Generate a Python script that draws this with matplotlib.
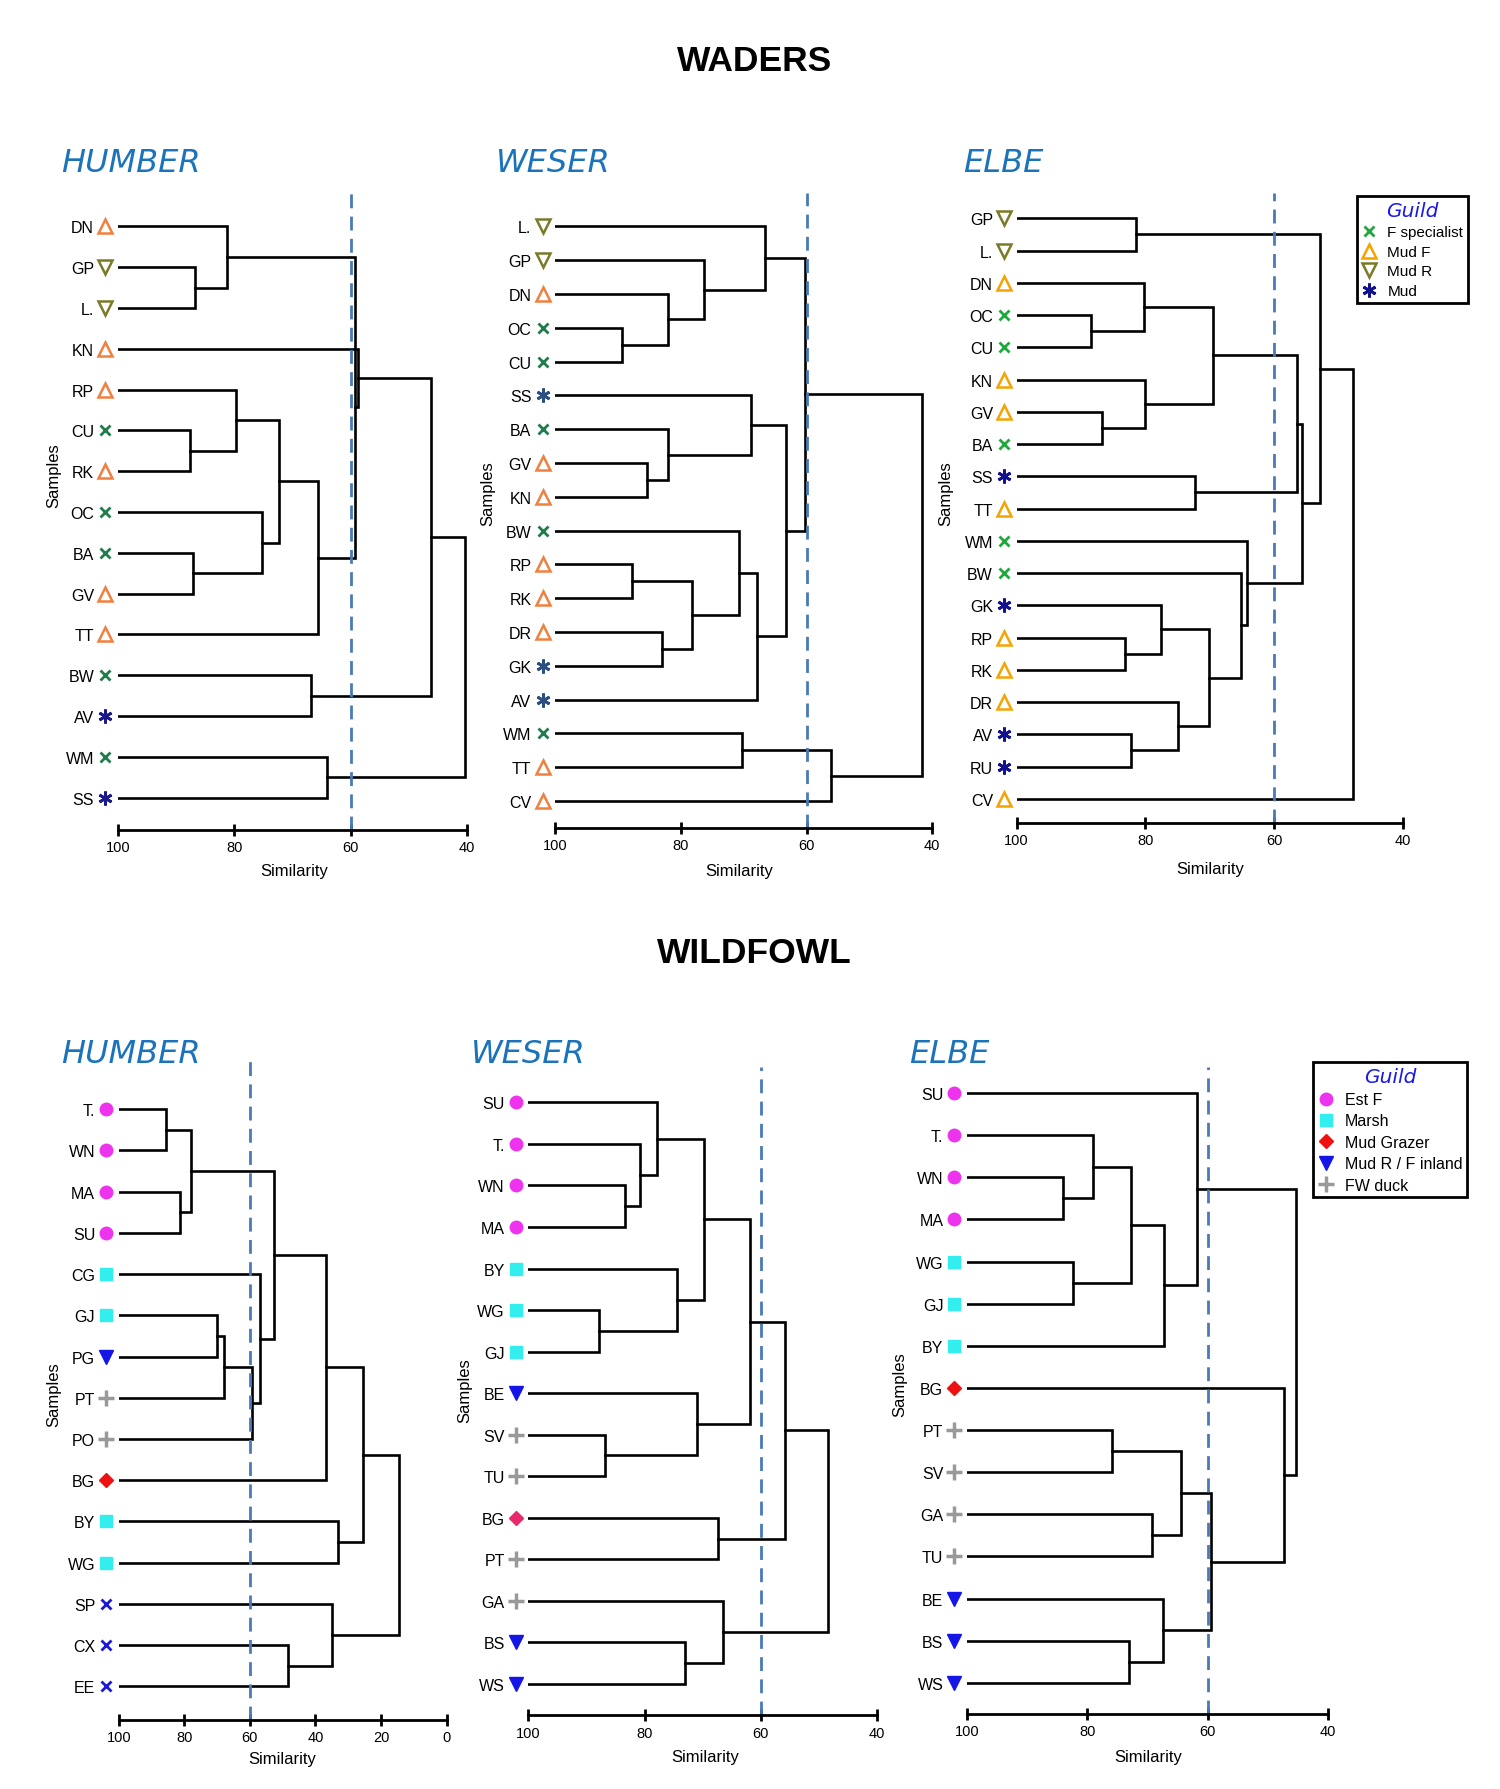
import matplotlib.pyplot as plt
from matplotlib.transforms import ScaledTranslation
from matplotlib.lines import Line2D

plt.rcParams['font.family'] = ['Liberation Sans', 'DejaVu Sans']

# ---------------- data ----------------
# merges work like a scipy linkage: (child a, child b, similarity)
# children < n are leaves, n + k is the k-th merge

# Waders - Humber
wh_leaves = ['DN', 'GP', 'L.', 'KN', 'RP', 'CU', 'RK', 'OC', 'BA', 'GV', 'TT', 'BW', 'AV', 'WM', 'SS']
wh_guild = ['MF', 'MR', 'MR', 'MF', 'MF', 'F', 'MF', 'F', 'F', 'MF', 'MF', 'F', 'M', 'F', 'M']
wh_merges = [(1, 2, 86.8), (0, 15, 81.2), (5, 6, 87.6), (4, 17, 79.7), (8, 9, 87.1),
             (7, 19, 75.2), (18, 20, 72.4), (21, 10, 65.7), (16, 22, 59.3), (23, 3, 58.8),
             (11, 12, 66.8), (24, 25, 46.2), (13, 14, 64.0), (26, 27, 40.4)]

# Waders - Weser
ww_leaves = ['L.', 'GP', 'DN', 'OC', 'CU', 'SS', 'BA', 'GV', 'KN', 'BW', 'RP', 'RK', 'DR', 'GK',
             'AV', 'WM', 'TT', 'CV']
ww_guild = ['MR', 'MR', 'MF', 'F', 'F', 'M', 'F', 'MF', 'MF', 'F', 'MF', 'MF', 'MF', 'M',
            'M', 'F', 'MF', 'MF']
ww_merges = [(3, 4, 89.4), (2, 18, 82.0), (1, 19, 76.3), (0, 20, 66.6), (7, 8, 85.3),
             (6, 22, 82.0), (5, 23, 68.9), (10, 11, 87.8), (12, 13, 83.0), (25, 26, 78.2),
             (9, 27, 70.7), (28, 14, 67.8), (24, 29, 63.2), (21, 30, 60.3), (15, 16, 70.3),
             (32, 17, 56.1), (31, 33, 41.6)]

# Waders - Elbe
we_leaves = ['GP', 'L.', 'DN', 'OC', 'CU', 'KN', 'GV', 'BA', 'SS', 'TT', 'WM', 'BW', 'GK', 'RP',
             'RK', 'DR', 'AV', 'RU', 'CV']
we_guild = ['MR', 'MR', 'MF', 'F', 'F', 'MF', 'MF', 'F', 'M', 'MF', 'F', 'F', 'M', 'MF',
            'MF', 'MF', 'M', 'M', 'MF']
we_merges = [(0, 1, 81.5), (3, 4, 88.5), (2, 20, 80.2), (6, 7, 86.7), (5, 22, 80.1),
             (21, 23, 69.5), (8, 9, 72.3), (24, 25, 56.4), (13, 14, 83.1), (12, 27, 77.6),
             (16, 17, 82.2), (15, 29, 74.9), (28, 30, 70.1), (11, 31, 65.2), (10, 32, 64.2),
             (26, 33, 55.7), (19, 34, 52.9), (35, 18, 47.8)]

# Wildfowl - Humber
fh_leaves = ['T.', 'WN', 'MA', 'SU', 'CG', 'GJ', 'PG', 'PT', 'PO', 'BG', 'BY', 'WG', 'SP', 'CX', 'EE']
fh_guild = ['E', 'E', 'E', 'E', 'Ma', 'Ma', 'R', 'D', 'D', 'G', 'Ma', 'Ma', 'X', 'X', 'X']
fh_merges = [(0, 1, 85.6), (2, 3, 81.2), (15, 16, 78.1), (5, 6, 69.9), (18, 7, 67.9),
             (19, 8, 59.5), (4, 20, 57.0), (17, 21, 52.7), (22, 9, 36.9), (10, 11, 33.1),
             (23, 24, 25.4), (13, 14, 48.3), (12, 26, 34.9), (25, 27, 14.6)]

# Wildfowl - Weser
fw_leaves = ['SU', 'T.', 'WN', 'MA', 'BY', 'WG', 'GJ', 'BE', 'SV', 'TU', 'BG', 'PT', 'GA', 'BS', 'WS']
fw_guild = ['E', 'E', 'E', 'E', 'Ma', 'Ma', 'Ma', 'R', 'D', 'D', 'G', 'D', 'D', 'R', 'R']
fw_merges = [(2, 3, 83.4), (1, 15, 80.8), (0, 16, 77.9), (5, 6, 87.9), (4, 18, 74.5),
             (17, 19, 69.8), (8, 9, 86.9), (7, 21, 70.9), (20, 22, 61.9), (10, 11, 67.3),
             (23, 24, 55.8), (13, 14, 73.1), (12, 26, 66.5), (25, 27, 48.4)]

# Wildfowl - Elbe
fe_leaves = ['SU', 'T.', 'WN', 'MA', 'WG', 'GJ', 'BY', 'BG', 'PT', 'SV', 'GA', 'TU', 'BE', 'BS', 'WS']
fe_guild = ['E', 'E', 'E', 'E', 'Ma', 'Ma', 'Ma', 'G', 'D', 'D', 'D', 'D', 'R', 'R', 'R']
fe_merges = [(2, 3, 84.1), (1, 15, 79.0), (4, 5, 82.4), (16, 17, 72.7), (18, 6, 67.3),
             (0, 19, 61.8), (8, 9, 75.9), (10, 11, 69.3), (21, 22, 64.5), (13, 14, 73.1),
             (12, 24, 67.5), (23, 25, 59.4), (7, 26, 47.3), (20, 27, 45.3)]

cut_off = 60

# ---------------- marker styles ----------------
def wader_styles(orange, green, star):
    return {
        'F': dict(marker='x', color=green, ms=7, mew=2),
        'MF': dict(marker='^', color=orange, mfc='none', ms=9.5, mew=1.8),
        'MR': dict(marker='v', color='#7a7a28', mfc='none', ms=9.5, mew=1.8),
        'M': dict(marker=(6, 2, 0), color=star, ms=10, mew=2),
    }

wh_style = wader_styles('#f08040', '#1e7d4a', '#1a1a8c')
ww_style = wader_styles('#f08040', '#1e7d4a', '#2a4f80')
we_style = wader_styles('#f5a300', '#1fa83c', '#12128f')

fowl_style = {
    'E': dict(marker='o', color='#ee33ee', ms=9),
    'Ma': dict(marker='s', color='#33eeee', ms=8.5),
    'G': dict(marker='D', color='#ee1111', ms=7.5),
    'R': dict(marker='v', color='#1515e6', ms=10),
    'D': dict(marker='+', color='#999999', ms=11, mew=2.5),
    'X': dict(marker='x', color='#1a1ad6', ms=7, mew=2),
}
fw_style = dict(fowl_style)
fw_style['G'] = dict(marker='D', color='#e8296b', ms=7.5)

# ---------------- layout (measured on a 1300 px wide copy) ----------------
W_PX, H_PX = 1300, 1551


def fx(px):
    return px / W_PX


def fy(py):
    return 1 - py / H_PX


fig = plt.figure(figsize=(15, 17.9), dpi=100)


def draw_panel(box, leaves, guilds, merges, xmin, styles):
    x0, x1, ytop, ybot, yaxis, dtop = box
    n = len(leaves)
    sp = (ybot - ytop) / (n - 1)
    ax = fig.add_axes([fx(x0), fy(yaxis), fx(x1) - fx(x0), (yaxis - dtop) / H_PX])
    ax.set_xlim(100, xmin)
    ax.set_ylim(n - 1 + (yaxis - ybot) / sp, -(ytop - dtop) / sp)

    xs = [100.0] * n
    ys = list(range(n))
    for a, b, s in merges:
        ax.plot([xs[a], s, s, xs[b]], [ys[a], ys[a], ys[b], ys[b]],
                color='black', lw=1.9, solid_joinstyle='miter')
        xs.append(s)
        ys.append((ys[a] + ys[b]) / 2)

    ax.axvline(cut_off, color='#4a7ab5', lw=2, ls=(0, (5, 3)))

    off = ax.transData + ScaledTranslation(-9 / 72, 0, fig.dpi_scale_trans)
    for i, g in enumerate(guilds):
        ax.plot([100], [i], ls='none', transform=off, clip_on=False, **styles[g])

    ax.set_yticks(range(n))
    ax.set_yticklabels(leaves, fontsize=11.5)
    ax.tick_params(axis='y', length=0, pad=17)
    ax.set_xticks(range(100, xmin - 1, -20))
    ax.tick_params(axis='x', direction='inout', length=9, width=2, labelsize=10.5, pad=3)
    for side in ['top', 'right', 'left']:
        ax.spines[side].set_visible(False)
    ax.spines['bottom'].set_linewidth(2)
    ax.patch.set_alpha(0)
    return ax


draw_panel((102, 405, 197, 692, 720, 165), wh_leaves, wh_guild, wh_merges, 40, wh_style)
draw_panel((481, 808, 197, 695, 718, 168), ww_leaves, ww_guild, ww_merges, 40, ww_style)
draw_panel((881, 1216, 190, 693, 714, 168), we_leaves, we_guild, we_merges, 40, we_style)
draw_panel((103, 387, 962, 1462, 1491, 920), fh_leaves, fh_guild, fh_merges, 0, fowl_style)
draw_panel((458, 760, 956, 1460, 1487, 925), fw_leaves, fw_guild, fw_merges, 40, fw_style)
draw_panel((838, 1151, 948, 1459, 1486, 925), fe_leaves, fe_guild, fe_merges, 40, fowl_style)

# ---------------- texts ----------------
fig.text(fx(654), fy(53), 'WADERS', ha='center', va='center', fontsize=25.5, weight='bold')
fig.text(fx(654), fy(826), 'WILDFOWL', ha='center', va='center', fontsize=25.5, weight='bold')

titles = [(53, 142, 'HUMBER'), (430, 142, 'WESER'), (835, 142, 'ELBE'),
          (53, 914, 'HUMBER'), (408, 914, 'WESER'), (788, 914, 'ELBE')]
for x, y, t in titles:
    fig.text(fx(x), fy(y), t, ha='left', va='center', fontsize=23, style='italic',
             color='#1a73bb', family='DejaVu Sans')

for x, y in [(255, 755), (641, 755), (1049, 753), (245, 1525), (611, 1523), (995, 1523)]:
    fig.text(fx(x), fy(y), 'Similarity', ha='center', va='center', fontsize=12)
for x, y in [(47, 412), (423, 428), (820, 428), (47, 1208), (403, 1205), (780, 1200)]:
    fig.text(fx(x), fy(y), 'Samples', ha='center', va='center', fontsize=12, rotation=90)

# ---------------- legends ----------------
def guild_legend(keys, names, styles, anchor, size, spacing):
    handles = [Line2D([], [], ls='none', **styles[k]) for k in keys]
    leg = fig.legend(handles, names, loc='upper left', bbox_to_anchor=anchor,
                     frameon=True, fancybox=False, edgecolor='black', framealpha=1,
                     title='Guild', fontsize=size, handlelength=1.0, handletextpad=0.7,
                     labelspacing=spacing, borderpad=0.3, borderaxespad=0)
    leg.get_frame().set_linewidth(2)
    t = leg.get_title()
    t.set_color('#1a1ae6')
    t.set_fontstyle('italic')
    t.set_fontsize(14.5)
    t.set_family('DejaVu Sans')
    return leg


guild_legend(['F', 'MF', 'MR', 'M'], ['F specialist', 'Mud F', 'Mud R', 'Mud'],
             we_style, (fx(1176), fy(171)), 11, 0.36)
guild_legend(['E', 'Ma', 'G', 'R', 'D'],
             ['Est F', 'Marsh', 'Mud Grazer', 'Mud R / F inland', 'FW duck'],
             fowl_style, (fx(1138), fy(921)), 11.5, 0.4)

fig.savefig('out.png', dpi=100)
